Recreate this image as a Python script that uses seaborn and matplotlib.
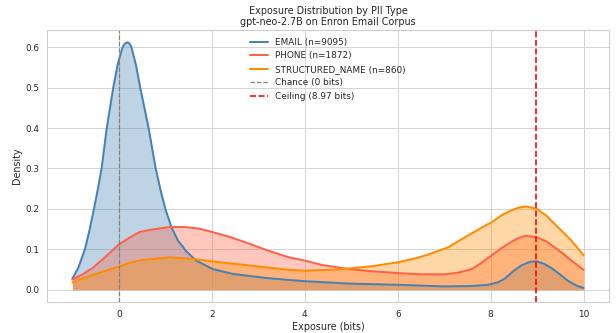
import matplotlib
matplotlib.use("Agg")
import matplotlib.pyplot as plt
import seaborn as sns

# Density curves (exposure in bits -> density)
email_x = [-1.0, -0.87, -0.73, -0.63, -0.535, -0.45, -0.37, -0.26, -0.12, -0.02, 0.08,
           0.13, 0.18, 0.23, 0.27, 0.37, 0.46, 0.55, 0.64, 0.79, 0.9, 1.0, 1.13, 1.27,
           1.45, 1.66, 2.02, 2.45, 3.16, 3.66, 4.0, 4.95, 6.02, 7.0, 7.6, 7.94, 8.15,
           8.3, 8.5, 8.66, 8.85, 8.99, 9.15, 9.3, 9.5, 9.66, 9.85, 10.0]
email_y = [0.027, 0.055, 0.10, 0.148, 0.20, 0.25, 0.301, 0.40, 0.50, 0.56, 0.60,
           0.609, 0.612, 0.609, 0.60, 0.555, 0.50, 0.45, 0.40, 0.301, 0.245, 0.20, 0.155, 0.122,
           0.095, 0.072, 0.051, 0.039, 0.029, 0.024, 0.021, 0.015, 0.012, 0.008, 0.009, 0.012, 0.018,
           0.027, 0.047, 0.06, 0.069, 0.07, 0.064, 0.054, 0.037, 0.022, 0.01, 0.004]

phone_x = [-1.0, -0.75, -0.55, -0.3, 0.0, 0.25, 0.45, 0.73, 1.09, 1.4, 1.73, 2.0, 2.4,
           2.8, 3.2, 3.66, 4.0, 4.37, 4.95, 5.5, 6.02, 6.5, 7.02, 7.3, 7.59, 7.8, 8.02,
           8.25, 8.44, 8.6, 8.76, 8.99, 9.2, 9.37, 9.55, 9.7, 10.0]
phone_y = [0.025, 0.04, 0.055, 0.08, 0.112, 0.13, 0.143, 0.149, 0.155, 0.155, 0.151, 0.143, 0.13,
           0.114, 0.097, 0.08, 0.072, 0.061, 0.051, 0.045, 0.041, 0.038, 0.038, 0.042, 0.051, 0.066, 0.085,
           0.104, 0.118, 0.128, 0.133, 0.13, 0.119, 0.105, 0.09, 0.075, 0.049]

name_x = [-1.0, -0.55, -0.3, 0.0, 0.25, 0.52, 0.73, 1.09, 1.59, 2.0, 2.8, 3.66, 4.0,
          4.73, 5.45, 6.02, 6.4, 6.66, 7.09, 7.45, 7.75, 8.02, 8.25, 8.44, 8.6, 8.76,
          8.99, 9.2, 9.37, 9.55, 9.73, 10.0]
name_y = [0.018, 0.037, 0.046, 0.057, 0.067, 0.074, 0.076, 0.08, 0.076, 0.07, 0.06, 0.049, 0.047,
          0.05, 0.058, 0.068, 0.078, 0.087, 0.105, 0.13, 0.15, 0.167, 0.185, 0.196, 0.203, 0.206,
          0.2, 0.183, 0.163, 0.143, 0.122, 0.085]

labels = ["EMAIL (n=9095)", "PHONE (n=1872)", "STRUCTURED_NAME (n=860)"]
colors = ["steelblue", "tomato", "darkorange"]
chance_bits = 0.0
ceiling_bits = 8.97

sns.set_theme(style="whitegrid")
dpi = 58
fig, ax = plt.subplots(figsize=(616 / dpi, 333 / dpi), dpi=dpi)
fig.subplots_adjust(left=0.076, right=0.989, top=0.91, bottom=0.093)

for xs, ys, lab, col in zip([email_x, phone_x, name_x], [email_y, phone_y, name_y],
                            labels, colors):
    sns.lineplot(x=xs, y=ys, color=col, linewidth=2.5, label=lab, ax=ax)
    ax.fill_between(xs, ys, color=col, alpha=0.35, linewidth=0)

ax.axvline(chance_bits, color="gray", linestyle="--", linewidth=1.5,
           label="Chance (0 bits)")
ax.axvline(ceiling_bits, color="red", linestyle="--", linewidth=2,
           label="Ceiling (8.97 bits)")

ax.set_xlabel("Exposure (bits)")
ax.set_ylabel("Density")
ax.set_title("Exposure Distribution by PII Type\ngpt-neo-2.7B on Enron Email Corpus")
ax.legend(loc="upper center", frameon=False)

fig.savefig("out.png", dpi=dpi)
